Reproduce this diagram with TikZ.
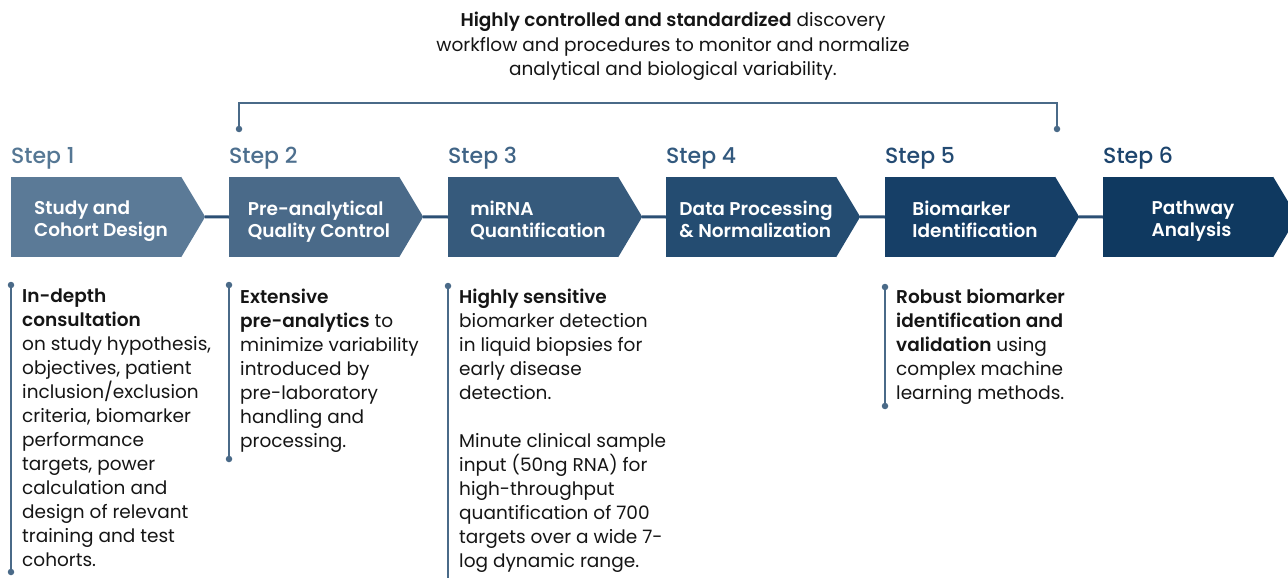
\documentclass[tikz,border=0pt]{standalone}
\usepackage{fontspec}
\setmainfont{Poppins}[BoldFont={Poppins SemiBold}]
\newfontfamily\medfont{Poppins Medium}
\definecolor{boxA}{HTML}{5B7A97}
\definecolor{boxB}{HTML}{4A6A89}
\definecolor{boxC}{HTML}{365A7C}
\definecolor{boxD}{HTML}{244C71}
\definecolor{boxE}{HTML}{163F67}
\definecolor{boxF}{HTML}{0F3960}
\definecolor{capA}{HTML}{557794}
\definecolor{capB}{HTML}{4D6F8E}
\definecolor{capC}{HTML}{406486}
\definecolor{capD}{HTML}{32597E}
\definecolor{capE}{HTML}{244B73}
\definecolor{capF}{HTML}{1C446D}
\definecolor{rule}{HTML}{4A6A88}
\definecolor{link}{HTML}{2B4F74}
\definecolor{ink}{HTML}{151515}
\tikzset{
  stepbox/.style={rectangle, minimum width=170pt, minimum height=80pt, inner sep=0pt, draw=none},
  boxtext/.style={text=white, font=\fontsize{18.5}{21.5}\selectfont\bfseries, align=left, inner sep=0pt, anchor=north},
  steplabel/.style={font=\fontsize{22}{24}\selectfont\medfont, anchor=base west, inner sep=0pt},
  body/.style={font=\fontsize{18.5}{24}\selectfont, text=ink, align=left, anchor=north west, inner sep=0pt},
  ruleline/.style={draw=rule, line width=2.4pt},
  dot/.style={circle, fill=rule, minimum size=6.5pt, inner sep=0pt},
  linkline/.style={draw=link, line width=3pt}
}
\begin{document}
\begin{tikzpicture}[x=1pt, y=-1pt]
\useasboundingbox (0,0) rectangle (1288,578);

% headline
\node[font=\fontsize{18.5}{24.5}\selectfont, text=ink, align=center, inner sep=0pt, anchor=north] (head) at (673,12)
  {\textbf{Highly controlled and standardized} discovery\\
   workflow and procedures to monitor and normalize\\
   analytical and biological variability.};

% bracket over steps 2 to 5
\node[dot] (bl) at (239,129) {};
\node[dot] (br) at (1057,129) {};
\coordinate (blt) at (239,103);
\coordinate (brt) at (1057,103);
\draw[draw=rule, line width=2pt] (bl.center) -- (blt) -- (brt) -- (br.center);

% step boxes: rectangle body plus arrow tip
\foreach \i/\x/\c in {1/11/boxA, 2/229/boxB, 3/448/boxC, 4/666/boxD, 5/885/boxE, 6/1103/boxF}{
  \node[stepbox, fill=\c] (s\i) at (\x+85,217) {};
  \fill[\c] (s\i.north east) -- ++(24,40) coordinate (t\i) -- (s\i.south east) -- cycle;
}
\foreach \a/\b in {1/2, 2/3, 3/4, 4/5, 5/6}{
  \draw[linkline] (t\a) -- (s\b.west);
}

% box titles
\node[boxtext] (n1) at ([xshift=5pt,yshift=-24pt]s1.north) {Study and\\Cohort Design};
\node[boxtext] (n2) at ([xshift=5pt,yshift=-24pt]s2.north) {Pre-analytical\\Quality Control};
\node[boxtext] (n3) at ([xshift=5pt,yshift=-24pt]s3.north) {miRNA\\Quantification};
\node[boxtext] (n4) at ([xshift=5pt,yshift=-24pt]s4.north) {Data Processing\\\& Normalization};
\node[boxtext] (n5) at ([xshift=5pt,yshift=-24pt]s5.north) {Biomarker\\Identification};
\node[boxtext] (n6) at ([xshift=5pt,yshift=-24pt]s6.north) {Pathway\\Analysis};

% step captions
\node[steplabel, text=capA] (c1) at (11,163) {Step 1};
\node[steplabel, text=capB] (c2) at (229,163) {Step 2};
\node[steplabel, text=capC] (c3) at (448,163) {Step 3};
\node[steplabel, text=capD] (c4) at (666,163) {Step 4};
\node[steplabel, text=capE] (c5) at (885,163) {Step 5};
\node[steplabel, text=capF] (c6) at (1103,163) {Step 6};

% description rules
\node[dot] (d1a) at (11,285) {};
\node[dot] (d1b) at (11,572) {};
\draw[ruleline] (d1a.center) -- (d1b.center);
\node[dot] (d2a) at (229,285) {};
\node[dot] (d2b) at (229,459) {};
\draw[ruleline] (d2a.center) -- (d2b.center);
\node[dot] (d3a) at (448,286) {};
\coordinate (d3b) at (448,580);
\draw[ruleline] (d3a.center) -- (d3b);
\node[dot] (d5a) at (885,287) {};
\node[dot] (d5b) at (885,406) {};
\draw[ruleline] (d5a.center) -- (d5b.center);

% descriptions
\node[body] (b1) at (22,289) {\textbf{In-depth}\\\textbf{consultation}\\on study hypothesis,\\objectives, patient\\inclusion/exclusion\\criteria, biomarker\\performance\\targets, power\\calculation and\\design of relevant\\training and test\\cohorts.};
\node[body] (b2) at (240,289) {\textbf{Extensive}\\\textbf{pre-analytics} to\\minimize variability\\introduced by\\pre-laboratory\\handling and\\processing.};
\node[body] (b3) at (459,289) {\textbf{Highly sensitive}\\biomarker detection\\in liquid biopsies for\\early disease\\detection.\\[24pt]Minute clinical sample\\input (50ng RNA) for\\high-throughput\\quantification of 700\\targets over a wide 7-\\log dynamic range.};
\node[body] (b5) at (896,289) {\textbf{Robust biomarker}\\\textbf{identification and}\\\textbf{validation} using\\complex machine\\learning methods.};
\end{tikzpicture}
\end{document}
